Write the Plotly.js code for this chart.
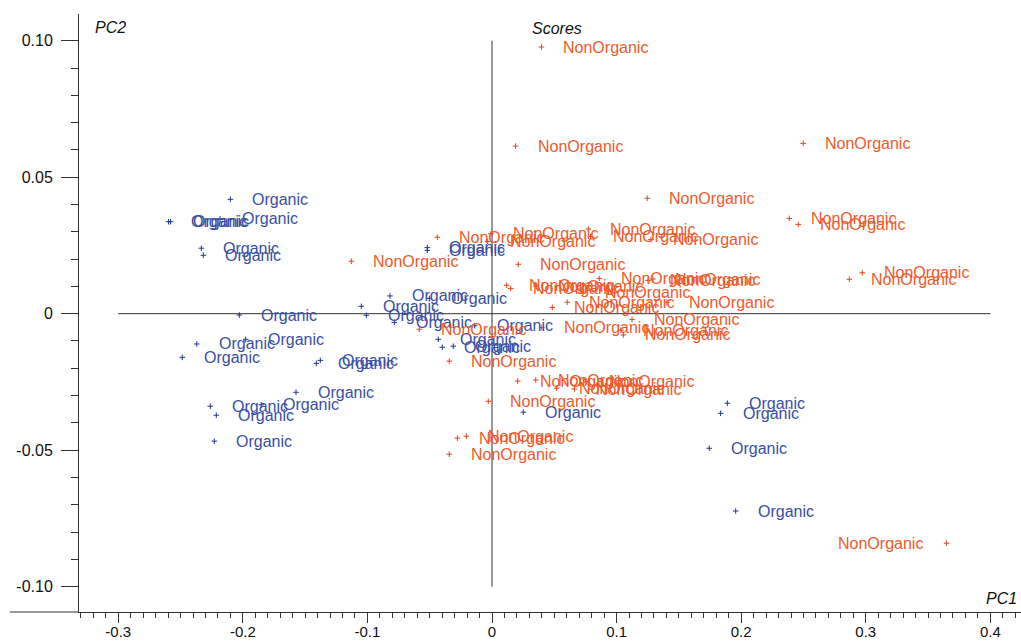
<!DOCTYPE html>
<html>
<head>
<meta charset="utf-8">
<script src="https://cdn.plot.ly/plotly-3.0.1.min.js"></script>
<style>html,body{margin:0;padding:0;background:#fff;}#chart{width:1021px;height:641px;}</style>
</head>
<body>
<div id="chart"></div>
<script>
// Scores (PC1, PC2)
const organicPC1 = [-0.2100,-0.2596,-0.2580,-0.2183,-0.2333,-0.2317,-0.2028,-0.0819,-0.0503,-0.1049,-0.1009,-0.0784,-0.0139,-0.0431,-0.0399,-0.0311,-0.2370,-0.1977,-0.2486,-0.1410,-0.1378,-0.1573,-0.2261,-0.2213,-0.1852,-0.2229,0.0251,-0.0519,-0.0519,0.1889,0.1835,0.1744,0.1956];
const organicPC2 = [0.0419,0.0337,0.0337,0.0347,0.0240,0.0214,-0.0005,0.0065,0.0056,0.0027,-0.0006,-0.0032,-0.0044,-0.0094,-0.0123,-0.0119,-0.0111,-0.0094,-0.0160,-0.0182,-0.0171,-0.0288,-0.0339,-0.0372,-0.0334,-0.0467,-0.0361,0.0242,0.0232,-0.0328,-0.0365,-0.0493,-0.0723];

const nonOrganicPC1 = [0.0397,0.0189,0.2498,0.1246,0.2386,0.2458,0.2868,0.2972,0.3649,-0.0439,-0.0008,-0.0035,-0.1129,0.0211,0.0773,0.0791,0.1276,0.0118,0.0150,0.0353,0.0730,0.0861,0.1252,0.1292,0.0484,0.0604,0.1404,0.1124,0.1035,0.1054,0.0399,-0.0583,-0.0343,0.0206,0.0351,0.0519,0.0661,0.0762,-0.0030,-0.0278,-0.0206,-0.0343];
const nonOrganicPC2 = [0.0977,0.0614,0.0624,0.0423,0.0349,0.0327,0.0126,0.0150,-0.0841,0.0280,0.0293,0.0265,0.0192,0.0181,0.0310,0.0283,0.0272,0.0104,0.0092,0.0101,0.0079,0.0129,0.0122,0.0127,0.0023,0.0042,0.0042,-0.0021,-0.0060,-0.0078,-0.0051,-0.0057,-0.0174,-0.0247,-0.0243,-0.0273,-0.0276,-0.0250,-0.0321,-0.0456,-0.0449,-0.0515];

const groupNames = ['Organic', 'NonOrganic'];
const xTickVals = [-0.3,-0.2,-0.1,0,0.1,0.2,0.3,0.4];
const xTickText = ['-0.3','-0.2','-0.1','0','0.1','0.2','0.3','0.4'];
const yTickVals = [0.10,0.05,0,-0.05,-0.10];
const yTickText = ['0.10','0.05','0','-0.05','-0.10'];

const blue = '#3a4ea3';
const blueMark = '#23358f';
const red = '#ee5a2c';
const redMark = '#e8431c';
const FONT = 'Arial, "Liberation Sans", sans-serif';

const traces = [
  {x: organicPC1, y: organicPC2, type: 'scatter', mode: 'markers', name: groupNames[0],
   marker: {symbol: 'cross-thin', size: 4, line: {width: 1, color: blueMark}, color: blueMark}, hoverinfo: 'x+y'},
  {x: nonOrganicPC1, y: nonOrganicPC2, type: 'scatter', mode: 'markers', name: groupNames[1],
   marker: {symbol: 'cross-thin', size: 4, line: {width: 1, color: redMark}, color: redMark}, hoverinfo: 'x+y'}
];

const annotations = [];
function addLabels(xs, ys, txt, col) {
  xs.forEach((x, i) => {
    const left = x > 0.35;
    annotations.push({x: x, y: ys[i], xref: 'x', yref: 'y', text: txt, showarrow: false,
      xanchor: left ? 'right' : 'left', yanchor: 'middle', xshift: left ? -22 : 20, yshift: 0,
      font: {family: FONT, size: 16, color: col}});
  });
}
addLabels(organicPC1, organicPC2, groupNames[0], blue);
addLabels(nonOrganicPC1, nonOrganicPC2, groupNames[1], red);

annotations.push({xref: 'paper', yref: 'paper', x: 0.0149, y: 0.977, text: '<i>PC2</i>', showarrow: false,
  xanchor: 'left', yanchor: 'middle', font: {family: FONT, size: 16, color: '#111'}});
annotations.push({xref: 'paper', yref: 'paper', x: 0.507, y: 0.975, text: '<i>Scores</i>', showarrow: false,
  xanchor: 'center', yanchor: 'middle', font: {family: FONT, size: 16, color: '#111'}});
annotations.push({xref: 'paper', yref: 'paper', x: 0.998, y: 0.023, text: '<i>PC1</i>', showarrow: false,
  xanchor: 'right', yanchor: 'middle', font: {family: FONT, size: 16, color: '#111'}});

const layout = {
  width: 1021, height: 641,
  margin: {l: 79, r: 0, t: 14, b: 29, pad: 0},
  paper_bgcolor: '#fff', plot_bgcolor: '#fff',
  showlegend: false,
  xaxis: {range: [-0.3315, 0.4246], showgrid: false, zeroline: false, showline: true,
    linecolor: '#333', linewidth: 1, ticks: 'outside', ticklen: 10, tickwidth: 1, tickcolor: '#333',
    tickmode: 'array', tickvals: xTickVals, ticktext: xTickText, ticklabelstandoff: -4,
    tickfont: {family: FONT, size: 15, color: '#111'},
    minor: {tickmode: 'linear', tick0: 0, dtick: 0.01, ticklen: 5, ticks: 'outside', tickcolor: '#333', tickwidth: 1, showgrid: false}},
  yaxis: {range: [-0.1093, 0.1098], showgrid: false, zeroline: false, showline: true,
    linecolor: '#333', linewidth: 1, ticks: 'outside', ticklen: 17, tickwidth: 1, tickcolor: '#333',
    tickmode: 'array', tickvals: yTickVals, ticktext: yTickText, ticklabelstandoff: 5,
    tickfont: {family: FONT, size: 16, color: '#111'},
    minor: {tickmode: 'linear', tick0: 0, dtick: 0.01, ticklen: 7, ticks: 'outside', tickcolor: '#333', tickwidth: 1, showgrid: false}},
  shapes: [
    {type: 'line', xref: 'x', yref: 'y', x0: -0.3, x1: 0.4, y0: 0, y1: 0, line: {color: '#333', width: 1}, layer: 'below'},
    {type: 'line', xref: 'x', yref: 'y', x0: 0, x1: 0, y0: -0.1, y1: 0.1, line: {color: '#333', width: 1}, layer: 'below'},
    {type: 'line', xref: 'paper', yref: 'paper', x0: -0.0732, x1: 0, y0: 0, y1: 0, line: {color: '#333', width: 1}}
  ],
  annotations: annotations
};

Plotly.newPlot('chart', traces, layout, {displayModeBar: false, staticPlot: true});
</script>
</body>
</html>
